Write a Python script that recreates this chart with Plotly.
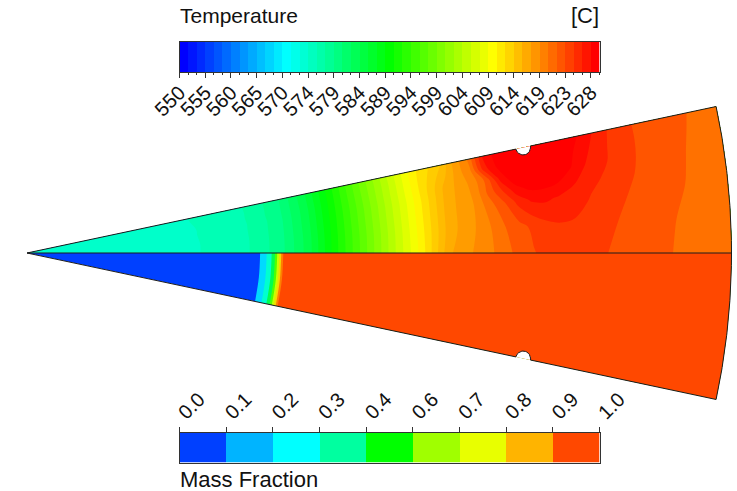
import numpy as np
import plotly.graph_objects as go

W, H = 737, 491
FONT = "Liberation Sans"
INK = "#111111"

# ---- Field data (r = radius / outer radius, f = angle / half-angle)
radial = [0, .2, .3, .36, .4, .44, .48, .52, .56,
          .6, .62, .64, .66, .68, .7, .72, .74, .76, .78, .8, .82, .84, .86,
          .88, .92, .96, 1]
angular = [0, .25, .5, .625, .75, .875, 1]
temp_f000 = [573.8, 574.0, 575.3, 578.8, 583.7, 590.7, 597.1, 603.6, 609.7,
             617.0, 618.1, 619.3, 620.3, 621.6, 622.8, 623.7, 624.4, 624.8, 624.7, 624.4, 623.9, 623.5, 623.2,
             622.9, 622.1, 621.6, 621.0]
temp_f250 = [573.8, 574.0, 575.3, 578.8, 583.7, 590.7, 597.1, 603.6, 609.9,
             616.4, 617.8, 619.0, 620.5, 622.1, 623.2, 624.2, 625.0, 625.3, 625.2, 624.9, 624.4, 623.8, 623.3,
             623.0, 622.2, 621.7, 621.0]
temp_f500 = [573.8, 574.0, 575.4, 578.8, 583.8, 590.7, 597.2, 603.7, 610.0,
             616.3, 617.8, 619.0, 621.5, 623.5, 625.9, 627.3, 627.4, 626.9, 626.3, 625.6, 625.0, 624.4, 623.8,
             623.3, 622.5, 621.8, 621.2]
temp_f625 = [573.8, 574.0, 575.4, 578.8, 583.8, 590.7, 597.2, 603.7, 610.0,
             616.2, 617.8, 619.2, 622.5, 625.4, 628.2, 629.2, 629.2, 628.7, 627.5, 626.4, 625.5, 624.8, 624.1,
             623.5, 622.6, 621.85, 621.25]
temp_f750 = [573.8, 574.0, 575.5, 578.9, 583.8, 590.7, 597.3, 603.8, 610.2,
             616.0, 617.8, 619.5, 622.7, 627.8, 630.0, 630.6, 630.7, 630.0, 628.9, 627.2, 626.0, 625.2, 624.4,
             623.6, 622.7, 621.9, 621.3]
temp_f875 = [573.8, 574.1, 575.5, 578.9, 583.9, 590.7, 597.4, 603.8, 610.3,
             615.0, 617.9, 620.4, 626.5, 629.2, 630.6, 631.0, 631.0, 630.2, 629.3, 627.9, 626.4, 625.3, 624.4,
             623.7, 622.8, 622.0, 621.3]
temp_f100 = [573.8, 574.1, 575.6, 578.9, 583.9, 590.7, 597.4, 603.9, 610.3,
             614.0, 618.0, 620.8, 627.1, 629.5, 630.5, 631.0, 631.0, 630.6, 629.8, 628.6, 627.0, 625.5, 624.4,
             623.7, 622.9, 622.1, 621.3]

frac_radial = [0, .33, .3402, .3473, .352, .3552, .3581, .3609, .3638, .3672, .38, 1]
frac_values = [0, .1, .2222, .3333, .4444, .5556, .6667, .7778, .8889, .97, .99, .995]

temp_labels = ["550", "555", "560", "565", "570", "574", "579", "584", "589", "594",
               "599", "604", "609", "614", "619", "623", "628"]
frac_labels = ["0.0", "0.1", "0.2", "0.3", "0.4", "0.6", "0.7", "0.8", "0.9", "1.0"]
frac_colors = ["#0040ff", "#00b4ff", "#00ffff", "#00ffa0", "#00ff00", "#a0ff00", "#e8ff00", "#ffb400", "#ff4800"]
# green channel of the field's hottest bands (yellow end to red end), as seen in the wedge
hot_green = [234, 212, 195, 180, 165, 146, 125, 100, 70, 45, 20, 0]

T_MIN, T_STEP, N_T = 550.0, 1.64, 49
HALF_ANGLE = np.radians(12.0)

# ---- Page <-> data mapping: 1 data unit = outer radius
PX = 704.5
APEX_X, AXIS_Y = 27.0, 253.0
x_range = [-APEX_X / PX, (W - APEX_X) / PX]
y_range = [-(H - AXIS_Y) / PX, AXIS_Y / PX]


def rainbow(t):
    stops = [(0, 0, 255), (0, 255, 255), (0, 255, 0), (255, 255, 0), (255, 0, 0)]
    p = t * 4
    i = min(int(p), 3)
    u = p - i
    c = [round(stops[i][j] + (stops[i + 1][j] - stops[i][j]) * u) for j in range(3)]
    return f"rgb({c[0]},{c[1]},{c[2]})"


band_colors = [rainbow(k / (N_T - 1)) for k in range(N_T)]
field_colors = band_colors[:N_T - len(hot_green)] + [f"rgb(255,{g},0)" for g in hot_green]
contour_scale = [[0, field_colors[0]]] + [[(k - .5) / (N_T - 1), field_colors[k]] for k in range(1, N_T)] + [[1, field_colors[-1]]]
frac_contour_scale = [[0, frac_colors[0]]] + [[(k - .5) / 8, frac_colors[k]] for k in range(1, 9)] + [[1, frac_colors[-1]]]

fig = go.Figure()

hidden = dict(showgrid=False, showline=False, showticklabels="none", startline=False,
              endline=False, minorgridcount=0, smoothing=0)


def carpet(cid, sign):
    a = np.array(sorted(set(radial) | set(frac_radial)))
    b = np.linspace(0, 1, 41)
    aa, bb = np.meshgrid(a, b)
    xx = aa * np.cos(bb * HALF_ANGLE)
    yy = sign * aa * np.sin(bb * HALF_ANGLE)
    fig.add_trace(go.Carpet(carpet=cid, a=aa.ravel(), b=bb.ravel(), x=xx.ravel(), y=yy.ravel(),
                            aaxis=hidden, baxis=hidden, xaxis="x", yaxis="y"))


carpet("top", 1)
carpet("bot", -1)

fig.add_trace(go.Contourcarpet(
    carpet="top", a=radial, b=angular,
    z=[temp_f000, temp_f250, temp_f500, temp_f625, temp_f750, temp_f875, temp_f100],
    autocontour=False,
    contours=dict(start=T_MIN + T_STEP, end=T_MIN + T_STEP * (N_T - 1), size=T_STEP, coloring="fill", showlines=False),
    line=dict(width=0, smoothing=1), colorscale=contour_scale, showscale=False))

fig.add_trace(go.Contourcarpet(
    carpet="bot", a=frac_radial, b=[0, .5, 1],
    z=[frac_values, frac_values, frac_values],
    autocontour=False,
    contours=dict(start=1 / 9, end=8 / 9 + 1e-6, size=1 / 9, coloring="fill", showlines=False),
    line=dict(width=0, smoothing=1), colorscale=frac_contour_scale, showscale=False))

# ---- Outline with notches
NOTCH_R = .72
NOTCH_RAD = 7.4 / PX
EDGE = "#1c1c1c"


def outline(sign):
    ca, sa = np.cos(HALF_ANGLE), np.sin(HALF_ANGLE)
    # notch: half circle cut into the flat side
    t = np.linspace(0, np.pi, 25)
    nx = NOTCH_R * ca + NOTCH_RAD * (-np.cos(t) * ca + np.sin(t) * sa)
    ny = NOTCH_R * sa + NOTCH_RAD * (-np.cos(t) * sa - np.sin(t) * ca)
    fig.add_trace(go.Scatter(x=nx, y=sign * ny, mode="lines", fill="toself", fillcolor="white",
                             line=dict(color="rgba(0,0,0,0)", width=0), hoverinfo="skip"))
    th = np.linspace(HALF_ANGLE, 0.0, 60)
    ex = np.concatenate([[0], nx, np.cos(th)])
    ey = np.concatenate([[0], ny, np.sin(th)])
    fig.add_trace(go.Scatter(x=ex, y=sign * ey, mode="lines", line=dict(color=EDGE, width=1), hoverinfo="skip"))


outline(1)
outline(-1)
fig.add_trace(go.Scatter(x=[0, 1], y=[0, 0], mode="lines", line=dict(color=EDGE, width=1), hoverinfo="skip"))

# ---- Legend bars
t_edges = [T_MIN + T_STEP * k for k in range(N_T + 1)]
fig.add_trace(go.Heatmap(x=t_edges, y=[0, 1], z=[list(range(N_T))], zmin=0, zmax=N_T - 1,
                         colorscale=[[k / (N_T - 1), band_colors[k]] for k in range(N_T)],
                         showscale=False, xaxis="x2", yaxis="y2", hoverinfo="skip"))
f_edges = [k / 9 for k in range(10)]
fig.add_trace(go.Heatmap(x=f_edges, y=[0, 1], z=[list(range(9))], zmin=0, zmax=8,
                         colorscale=[[k / 8, frac_colors[k]] for k in range(9)],
                         showscale=False, xaxis="x3", yaxis="y3", hoverinfo="skip"))

BAR_L, BAR_R = 179.5 / W, 599.5 / W
bar_font = dict(family=FONT, size=20, color=INK)
axis_common = dict(showline=True, mirror=True, linecolor="#333333", linewidth=1, ticks="outside",
                   ticklen=5, tickwidth=1, tickcolor="#333333", tickangle=-45, tickfont=bar_font,
                   ticklabelstandoff=-5, showgrid=False, zeroline=False, fixedrange=True, automargin=False)
bar_y = dict(range=[0, 1], showline=True, mirror=True, linecolor="#333333", linewidth=1, ticks="", showticklabels=False,
             showgrid=False, zeroline=False, fixedrange=True, automargin=False)

fig.update_layout(
    width=W, height=H, margin=dict(l=0, r=0, t=0, b=0, autoexpand=False), paper_bgcolor="white", plot_bgcolor="rgba(0,0,0,0)",
    showlegend=False,
    xaxis=dict(domain=[0, 1], range=x_range, visible=False, fixedrange=True, automargin=False),
    yaxis=dict(domain=[0, 1], range=y_range, visible=False, fixedrange=True, automargin=False),
    xaxis2=dict(domain=[BAR_L, BAR_R], anchor="y2", range=[T_MIN, T_MIN + T_STEP * N_T], side="bottom",
                tickmode="array", tickvals=[T_MIN + 3 * T_STEP * i for i in range(len(temp_labels))], ticktext=temp_labels,
                minor=dict(tickmode="array", tickvals=t_edges, ticks="outside", ticklen=2, tickcolor="#333333", tickwidth=1),
                **axis_common),
    yaxis2=dict(domain=[1 - 72 / H, 1 - 42 / H], anchor="x2", **bar_y),
    xaxis3=dict(domain=[BAR_L, BAR_R], anchor="y3", range=[0, 1], side="top",
                tickmode="array", tickvals=f_edges, ticktext=frac_labels, **axis_common),
    yaxis3=dict(domain=[1 - 462.5 / H, 1 - 432.5 / H], anchor="x3", **bar_y),
    annotations=[
        dict(text="Temperature", xref="paper", yref="paper", x=180 / W, y=1 - 16 / H, xanchor="left", yanchor="middle",
             showarrow=False, font=dict(family=FONT, size=21, color=INK), xshift=-2),
        dict(text="[C]", xref="paper", yref="paper", x=599 / W, y=1 - 16 / H, xanchor="right", yanchor="middle",
             showarrow=False, font=dict(family=FONT, size=22, color=INK), xshift=2),
        dict(text="Mass Fraction", xref="paper", yref="paper", x=180 / W, y=1 - 479 / H, xanchor="left", yanchor="middle",
             showarrow=False, font=dict(family=FONT, size=22, color=INK), xshift=-2),
    ],
)

fig.write_html("out.html", config=dict(displayModeBar=False), post_script="document.body.style.margin='0';")
